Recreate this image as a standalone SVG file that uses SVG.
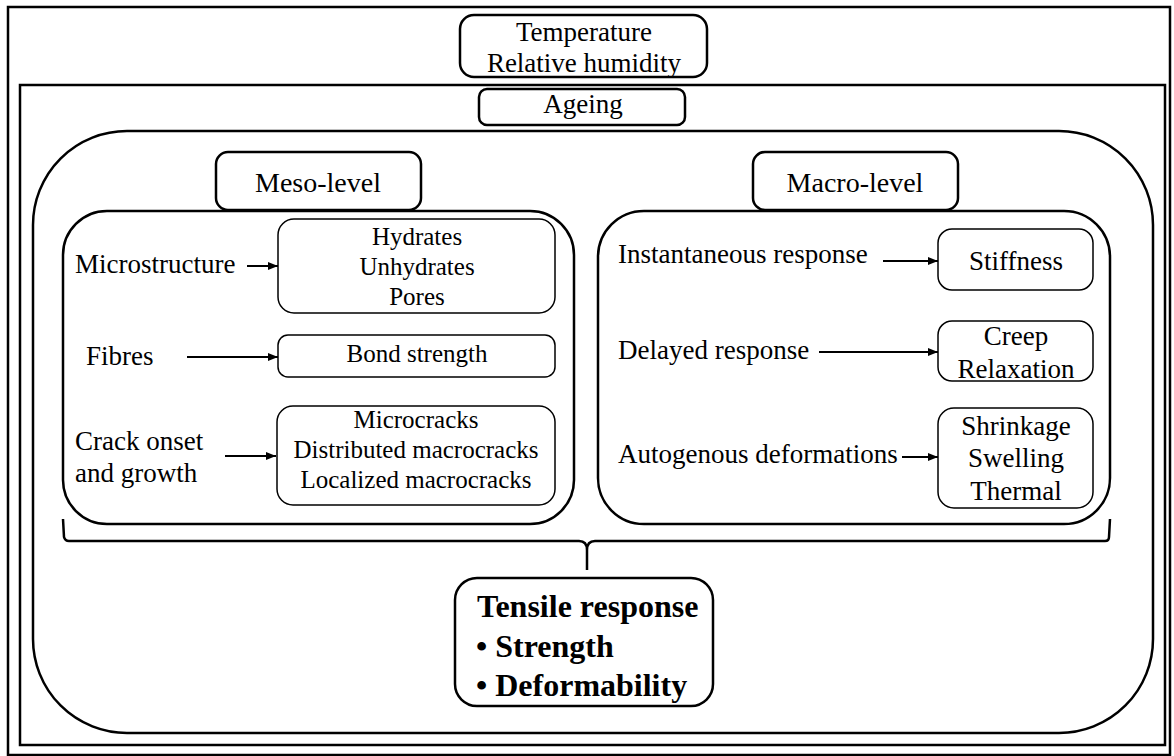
<svg xmlns="http://www.w3.org/2000/svg" width="1174" height="756" viewBox="0 0 1174 756">
<style>
text{font-family:"Liberation Serif","Times New Roman",serif;fill:#000}
.lbl{font-size:27px}
.bx{font-size:25px;text-anchor:middle}
.mb{font-size:27px;text-anchor:middle}
.hd{font-size:28px;text-anchor:middle}
.frame{fill:none;stroke:#000;stroke-width:2.5}
.panel{fill:none;stroke:#000;stroke-width:2.5}
.box{fill:#fff;stroke:#000;stroke-width:1.5}
.hbox{fill:#fff;stroke:#000;stroke-width:2.5}
.arr{fill:none;stroke:#000;stroke-width:2;marker-end:url(#ah)}
.bold{font-weight:bold;font-size:32px}
</style>
<defs>
<marker id="ah" viewBox="0 0 10 10" refX="10" refY="5" markerWidth="5" markerHeight="5" orient="auto" markerUnits="strokeWidth">
<path d="M0,1 L10,5 L0,9 z" fill="#000"/>
</marker>
</defs>
<rect width="1174" height="756" fill="#fff"/>
<g id="outer-frame"><rect class="frame" x="8" y="7" width="1162" height="748"/></g>
<g id="environment">
<rect class="hbox" x="460" y="15" width="247" height="62" rx="14"/>
<text class="hd" x="584" y="41" style="font-size:27px">Temperature</text>
<text class="hd" x="584" y="72" style="font-size:27px">Relative humidity</text>
</g>
<g id="ageing-frame"><rect class="frame" x="20" y="85" width="1145" height="660"/></g>
<g id="ageing">
<rect class="hbox" x="479" y="89" width="206" height="36" rx="8"/>
<text class="hd" x="583" y="113" style="font-size:27px">Ageing</text>
</g>
<g id="levels"><rect class="panel" x="33" y="131" width="1120" height="602" rx="94"/></g>
<g id="meso">
<rect class="panel" x="63" y="211" width="511" height="313" rx="44"/>
<rect class="hbox" x="216" y="152" width="205" height="58" rx="12"/>
<text class="hd" x="318" y="192">Meso-level</text>
<text class="lbl" x="75" y="273">Microstructure</text>
<text class="lbl" x="86" y="365">Fibres</text>
<text class="lbl" x="75" y="450">Crack onset</text>
<text class="lbl" x="75" y="482">and growth</text>
</g>
<g id="microstructure-box">
<rect class="box" x="278" y="219" width="277" height="94" rx="16"/>
<text class="bx" x="417" y="245">Hydrates</text>
<text class="bx" x="417" y="275">Unhydrates</text>
<text class="bx" x="417" y="305">Pores</text>
</g>
<g id="bond-box">
<rect class="box" x="278" y="335" width="277" height="42" rx="10"/>
<text class="bx" x="417" y="362">Bond strength</text>
</g>
<g id="crack-box">
<rect class="box" x="277" y="406" width="278" height="99" rx="16"/>
<text class="bx" x="416" y="428">Microcracks</text>
<text class="bx" x="416" y="458">Distributed macrocracks</text>
<text class="bx" x="416" y="488">Localized macrocracks</text>
</g>
<g id="macro">
<rect class="panel" x="598" y="211" width="512" height="313" rx="46"/>
<rect class="hbox" x="753" y="152" width="205" height="58" rx="12"/>
<text class="hd" x="855" y="192">Macro-level</text>
<text class="lbl" x="618" y="263">Instantaneous response</text>
<text class="lbl" x="618" y="359">Delayed response</text>
<text class="lbl" x="618" y="463">Autogenous deformations</text>
</g>
<g id="stiffness-box">
<rect class="box" x="938" y="229" width="155" height="61" rx="14"/>
<text class="mb" x="1016" y="270">Stiffness</text>
</g>
<g id="creep-box">
<rect class="box" x="938" y="321" width="155" height="60" rx="14"/>
<text class="mb" x="1016" y="345">Creep</text>
<text class="mb" x="1016" y="378">Relaxation</text>
</g>
<g id="deformation-box">
<rect class="box" x="938" y="408" width="155" height="100" rx="16"/>
<text class="mb" x="1016" y="435">Shrinkage</text>
<text class="mb" x="1016" y="467">Swelling</text>
<text class="mb" x="1016" y="500">Thermal</text>
</g>
<g id="tensile">
<rect class="hbox" x="455" y="578" width="258" height="128" rx="22"/>
<text class="bold" x="477" y="617">Tensile response</text>
<text class="bold" x="476" y="657">• Strength</text>
<text class="bold" x="476" y="696">• Deformability</text>
</g>
<g id="connectors">
<path class="arr" d="M247,266 L278,266"/>
<path class="arr" d="M187,357 L278,357"/>
<path class="arr" d="M225,456 L276,456"/>
<path class="arr" d="M883,261 L938,261"/>
<path class="arr" d="M819,352 L938,352"/>
<path class="arr" d="M902,457 L938,457"/>
<path d="M63,519 L64,537 Q65,541 69,541 L579,541 Q587,541 587,550 L587,570 M587,550 Q587,541 595,541 L1105,541 Q1109,541 1109,537 L1110,519" fill="none" stroke="#000" stroke-width="2.5"/>
</g>
</svg>
